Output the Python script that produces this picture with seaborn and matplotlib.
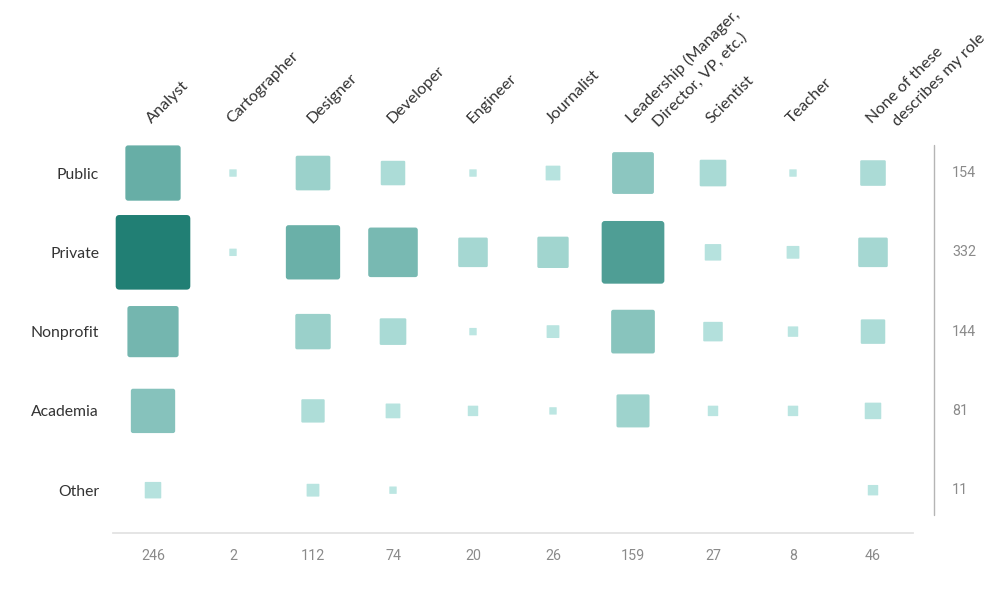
import numpy as np
import pandas as pd
import seaborn as sns
import matplotlib.pyplot as plt
from matplotlib.colors import LinearSegmentedColormap
from matplotlib.patches import FancyBboxPatch
from matplotlib.lines import Line2D
from matplotlib.transforms import offset_copy

roles = ['Analyst', 'Cartographer', 'Designer', 'Developer', 'Engineer', 'Journalist',
         'Leadership (Manager,\nDirector, VP, etc.)', 'Scientist', 'Teacher',
         'None of these\ndescribes my role']
sectors = ['Public', 'Private', 'Nonprofit', 'Academia', 'Other']

public = [56, 1, 22, 11, 1, 4, 32, 13, 1, 12]
private = [102, 1, 54, 45, 16, 18, 72, 5, 3, 16]
nonprofit = [48, 0, 23, 13, 1, 3, 35, 7, 2, 11]
academia = [36, 0, 10, 4, 2, 1, 20, 2, 2, 5]
other = [5, 0, 3, 1, 0, 0, 0, 0, 0, 2]

role_totals = [246, 2, 112, 74, 20, 26, 159, 27, 8, 46]
sector_totals = [154, 332, 144, 81, 11]

rows = []
for j, vals in enumerate([public, private, nonprofit, academia, other]):
    for i, v in enumerate(vals):
        if v > 0:
            rows.append({'role': i, 'sector': j, 'count': v})
df = pd.DataFrame(rows)

sns.set_style('white')
plt.rcParams['font.family'] = ['Lato', 'DejaVu Sans']

fig = plt.figure(figsize=(10.07, 5.90), dpi=100)
ax = fig.add_axes([113 / 1007, 57 / 590, 800 / 1007, 400 / 590])

cmap = LinearSegmentedColormap.from_list('teal', ['#bde7e3', '#217f74'])
vmax = max(private)
# slightly rounded square marker
box = FancyBboxPatch((-0.5, -0.5), 1, 1, boxstyle='round,pad=0,rounding_size=0.05')
sq = box.get_path()

# area proportional to count: ~28.3 pt^2 per unit
sns.scatterplot(data=df, x='role', y='sector', hue='count', size='count',
                palette=cmap, hue_norm=(0, vmax),
                sizes=(0, 28.3 * vmax), size_norm=(0, vmax),
                marker=sq, linewidth=0, legend=False, ax=ax)

ax.set_xlim(-0.5, 9.5)
ax.set_ylim(4.54, -0.505)
ax.set_xticks([])
ax.set_yticks(range(len(sectors)))
ax.set_yticklabels(sectors, fontsize=11.3, color='#333333')
ax.tick_params(axis='y', length=0, pad=10)
ax.set_xlabel('')
ax.set_ylabel('')
for s in ['top', 'left', 'right']:
    ax.spines[s].set_visible(False)
ax.spines['bottom'].set_color('#e3e3e3')
ax.spines['bottom'].set_linewidth(1.3)

# role labels, rotated; second line hangs a bit to the right
lx, ly = -0.0125, -0.617
for i, lab in enumerate(roles):
    lines = lab.split('\n')
    ax.text(i + lx, ly, lines[0], rotation=45, rotation_mode='anchor',
            ha='left', va='baseline', fontsize=11.7, color='#333333', clip_on=False)
    if len(lines) > 1:
        tr = offset_copy(ax.transData, fig=fig, x=18.7, y=-2.2, units='points')
        ax.text(i + lx, ly, lines[1], rotation=45, rotation_mode='anchor',
                ha='left', va='baseline', fontsize=11.7, color='#333333',
                transform=tr, clip_on=False)

for i, t in enumerate(role_totals):
    ax.text(i, 4.83, str(t), ha='center', va='center', fontsize=10.3,
            color='#8a8a8a', family='Roboto', clip_on=False)

for j, t in enumerate(sector_totals):
    ax.text(9.99, j, str(t), ha='left', va='center', fontsize=10.3,
            color='#8a8a8a', family='Roboto', clip_on=False)

fig.add_artist(Line2D([934 / 1007, 934 / 1007], [1 - 145 / 590, 1 - 515 / 590],
                      color='#b5b5b5', lw=1))

plt.savefig('out.png', dpi=100)
